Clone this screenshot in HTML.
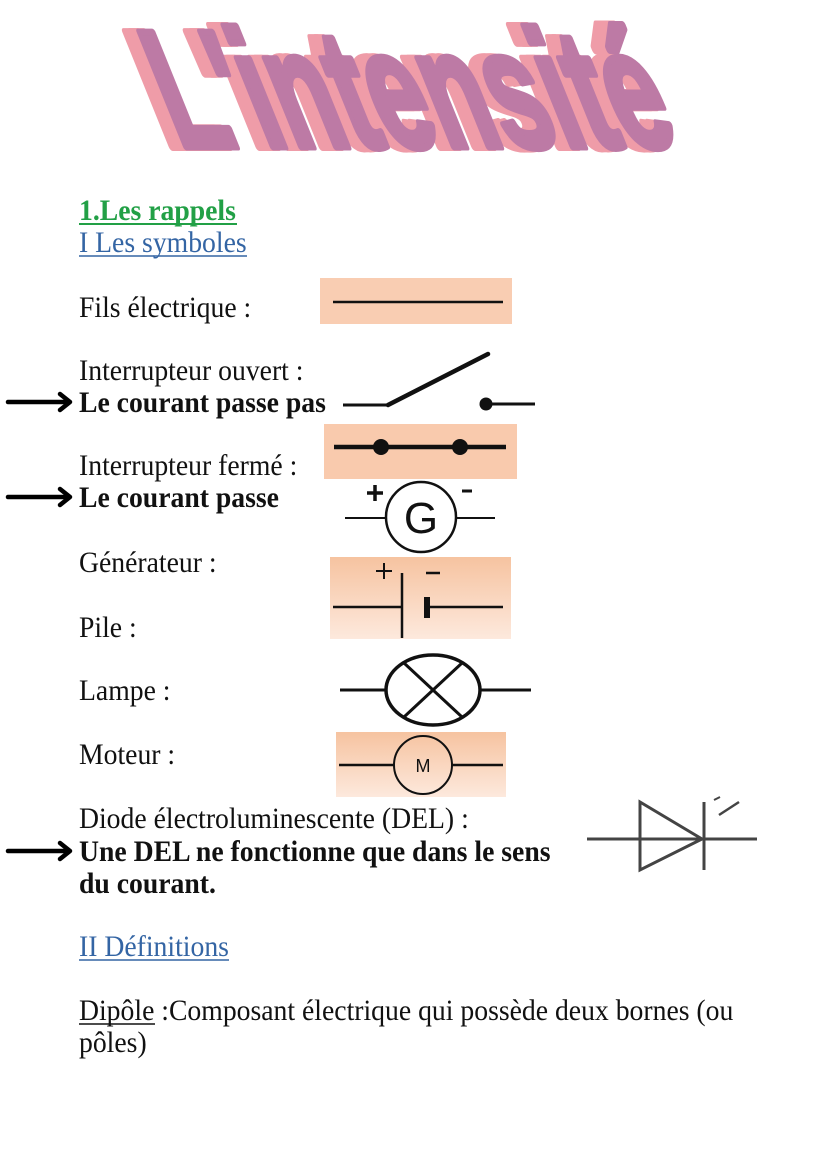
<!DOCTYPE html>
<html>
<head>
<meta charset="utf-8">
<style>
  html,body{margin:0;padding:0;background:#fff;}
  svg{display:block;}
  .t{font-family:"Liberation Serif",serif;font-size:27.7px;fill:#111;}
  .b{font-weight:bold;}
</style>
</head>
<body>
<svg width="828" height="1171" viewBox="0 0 828 1171" xmlns="http://www.w3.org/2000/svg">
  <defs>
    <linearGradient id="pg" x1="0" y1="0" x2="0" y2="1">
      <stop offset="0" stop-color="#f6c3a0"/>
      <stop offset="1" stop-color="#fde9dd"/>
    </linearGradient>
  </defs>
  <rect width="828" height="1171" fill="#fff"/>

  <!-- Title WordArt -->
  <g transform="skewX(22)" font-family="Liberation Sans, sans-serif" font-weight="bold" font-size="167">
    <text x="105" y="147" textLength="505" lengthAdjust="spacingAndGlyphs" fill="#ef9ca8" stroke="#ef9ca8" stroke-width="8" stroke-linejoin="round">L'intensité</text>
    <text x="111" y="147" textLength="505" lengthAdjust="spacingAndGlyphs" fill="#ef9ca8" stroke="#ef9ca8" stroke-width="8" stroke-linejoin="round">L'intensité</text>
    <text x="119" y="147" textLength="505" lengthAdjust="spacingAndGlyphs" fill="#bd7aa5" stroke="#bd7aa5" stroke-width="7" stroke-linejoin="round">L'intensité</text>
  </g>

  <!-- Headings -->
  <text class="t b" style="fill:#22a046" transform="translate(79,220) scale(1,1.07)">1.Les rappels</text>
  <line x1="79" y1="224" x2="237" y2="224" stroke="#22a046" stroke-width="2"/>
  <text class="t" style="fill:#3465a4" transform="translate(79,252) scale(1,1.07)">I Les symboles</text>
  <line x1="79" y1="256" x2="247" y2="256" stroke="#3465a4" stroke-width="1.6"/>

  <!-- Labels -->
  <text class="t" transform="translate(79,317) scale(1,1.07)">Fils électrique :</text>
  <text class="t" transform="translate(79,380) scale(1,1.07)">Interrupteur ouvert :</text>
  <text class="t b" transform="translate(79,412) scale(1,1.07)">Le courant passe pas</text>
  <text class="t" transform="translate(79,475) scale(1,1.07)">Interrupteur fermé :</text>
  <text class="t b" transform="translate(79,507) scale(1,1.07)">Le courant passe</text>
  <text class="t" transform="translate(79,572) scale(1,1.07)">Générateur :</text>
  <text class="t" transform="translate(79,637) scale(1,1.07)">Pile :</text>
  <text class="t" transform="translate(79,700) scale(1,1.07)">Lampe :</text>
  <text class="t" transform="translate(79,764) scale(1,1.07)">Moteur :</text>
  <text class="t" transform="translate(79,828) scale(1,1.07)">Diode électroluminescente (DEL) :</text>
  <text class="t b" transform="translate(79,861) scale(1,1.07)">Une DEL ne fonctionne que dans le sens</text>
  <text class="t b" transform="translate(79,893) scale(1,1.07)">du courant.</text>

  <text class="t" style="fill:#3465a4" transform="translate(79,956) scale(1,1.07)">II Définitions</text>
  <line x1="79" y1="960" x2="229" y2="960" stroke="#3465a4" stroke-width="1.6"/>

  <text class="t" transform="translate(79,1020) scale(1,1.07)">Dipôle :Composant électrique qui possède deux bornes (ou</text>
  <line x1="79" y1="1024" x2="155" y2="1024" stroke="#111" stroke-width="1.6"/>
  <text class="t" transform="translate(79,1052) scale(1,1.07)">pôles)</text>

  <!-- Arrows -->
  <g stroke="#000" stroke-width="4.5" fill="none" stroke-linecap="round" stroke-linejoin="round">
    <line x1="8" y1="402" x2="67" y2="402"/>
    <polyline points="60,394 70,402 60,410"/>
    <line x1="8" y1="497" x2="67" y2="497"/>
    <polyline points="60,489 70,497 60,505"/>
    <line x1="8" y1="851" x2="67" y2="851"/>
    <polyline points="60,843 70,851 60,859"/>
  </g>

  <!-- Fils -->
  <rect x="320" y="278" width="192" height="46" fill="#f9cdb2"/>
  <line x1="333" y1="302" x2="503" y2="302" stroke="#111" stroke-width="2.5"/>

  <!-- Interrupteur ouvert -->
  <polyline points="343,405 388,405" stroke="#111" stroke-width="3" fill="none"/>
  <line x1="388" y1="405" x2="488" y2="354" stroke="#111" stroke-width="4.5" stroke-linecap="round"/>
  <circle cx="486" cy="404" r="6.5" fill="#111"/>
  <line x1="486" y1="404" x2="535" y2="404" stroke="#111" stroke-width="3"/>

  <!-- Interrupteur fermé -->
  <rect x="324" y="424" width="193" height="55" fill="#f9caad"/>
  <line x1="334" y1="447" x2="506" y2="447" stroke="#111" stroke-width="4.5"/>
  <circle cx="381" cy="447" r="8" fill="#111"/>
  <circle cx="460" cy="447" r="8" fill="#111"/>

  <!-- Générateur -->
  <line x1="345" y1="518" x2="386" y2="518" stroke="#111" stroke-width="2"/>
  <line x1="456" y1="518" x2="495" y2="518" stroke="#111" stroke-width="2"/>
  <circle cx="421" cy="517" r="35" fill="#fff" stroke="#111" stroke-width="2.5"/>
  <text x="421" y="533" text-anchor="middle" font-family="Liberation Sans, sans-serif" font-size="44" fill="#111">G</text>
  <line x1="367" y1="493" x2="383" y2="493" stroke="#111" stroke-width="3.5"/>
  <line x1="375" y1="485" x2="375" y2="501" stroke="#111" stroke-width="3.5"/>
  <line x1="462" y1="491" x2="472" y2="491" stroke="#111" stroke-width="3"/>

  <!-- Pile -->
  <rect x="330" y="557" width="181" height="82" fill="url(#pg)"/>
  <line x1="333" y1="607" x2="402" y2="607" stroke="#111" stroke-width="2.5"/>
  <line x1="402" y1="573" x2="402" y2="638" stroke="#111" stroke-width="2.5"/>
  <rect x="424" y="597" width="6" height="21" fill="#111"/>
  <line x1="430" y1="607" x2="503" y2="607" stroke="#111" stroke-width="2.5"/>
  <line x1="376" y1="571" x2="392" y2="571" stroke="#111" stroke-width="2"/>
  <line x1="384" y1="563" x2="384" y2="579" stroke="#111" stroke-width="2"/>
  <line x1="426" y1="573" x2="440" y2="573" stroke="#111" stroke-width="2.5"/>

  <!-- Lampe -->
  <line x1="340" y1="690" x2="386" y2="690" stroke="#111" stroke-width="3"/>
  <line x1="480" y1="690" x2="531" y2="690" stroke="#111" stroke-width="3"/>
  <ellipse cx="433" cy="690" rx="47" ry="35" fill="none" stroke="#111" stroke-width="3.5"/>
  <line x1="404" y1="663" x2="462" y2="717" stroke="#111" stroke-width="3"/>
  <line x1="462" y1="663" x2="404" y2="717" stroke="#111" stroke-width="3"/>

  <!-- Moteur -->
  <rect x="336" y="732" width="170" height="65" fill="url(#pg)"/>
  <line x1="339" y1="765" x2="394" y2="765" stroke="#111" stroke-width="2.5"/>
  <line x1="452" y1="765" x2="503" y2="765" stroke="#111" stroke-width="2.5"/>
  <circle cx="423" cy="765" r="29" fill="none" stroke="#111" stroke-width="2"/>
  <text x="423" y="772" text-anchor="middle" font-family="Liberation Sans, sans-serif" font-size="18" fill="#111">M</text>

  <!-- DEL -->
  <g stroke="#444" stroke-width="3" fill="none">
    <line x1="587" y1="839" x2="757" y2="839"/>
    <polygon points="640,802 640,870 702,839"/>
    <line x1="704" y1="802" x2="704" y2="870"/>
    <line x1="719" y1="815" x2="739" y2="802" stroke-width="2.5"/>
    <line x1="714" y1="800" x2="720" y2="797" stroke-width="2"/>
  </g>
</svg>
</body>
</html>
